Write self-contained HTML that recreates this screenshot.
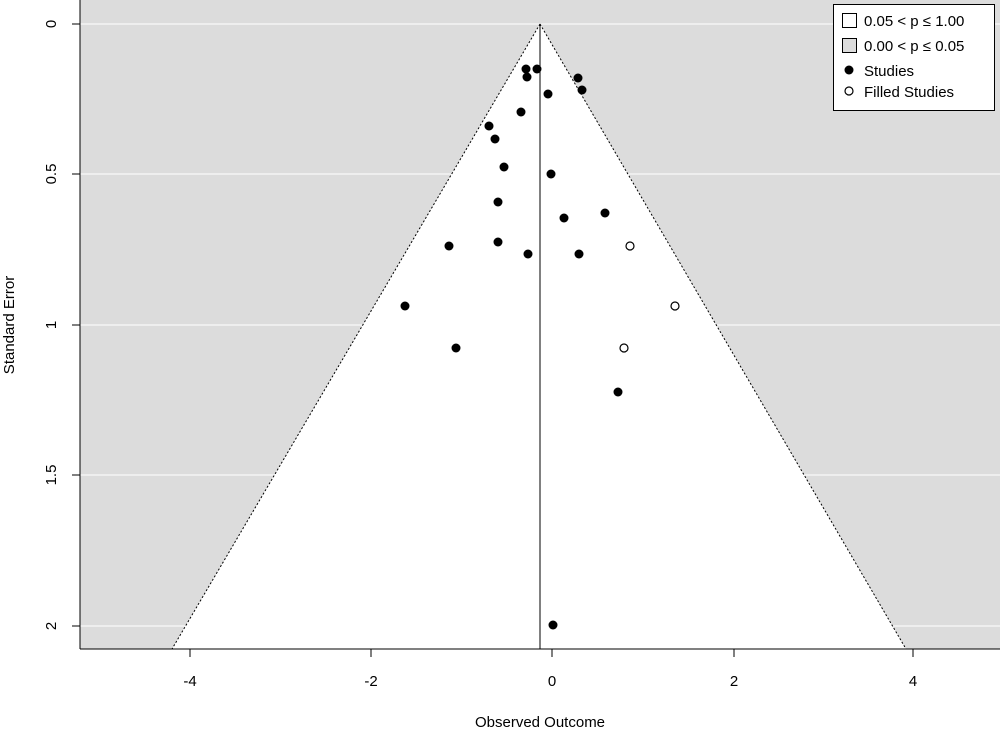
<!DOCTYPE html>
<html><head><meta charset="utf-8"><style>body{margin:0;background:#fff}svg{display:block}</style></head><body>
<svg width="1000" height="730" xmlns="http://www.w3.org/2000/svg" font-family="Liberation Sans, sans-serif">
<rect x="80" y="0" width="920" height="649" fill="#dcdcdc"/>
<g stroke="#fff" stroke-width="1">
<line x1="80" y1="24" x2="1000" y2="24"/><line x1="80" y1="174" x2="1000" y2="174"/><line x1="80" y1="325" x2="1000" y2="325"/><line x1="80" y1="475" x2="1000" y2="475"/><line x1="80" y1="626" x2="1000" y2="626"/>
</g>
<polygon points="540,24 172,649 906,649" fill="#fff"/>
<line x1="540" y1="24" x2="172" y2="649" stroke="#000" stroke-dasharray="2,2"/>
<line x1="540" y1="24" x2="906" y2="649" stroke="#000" stroke-dasharray="2,2"/>
<g stroke="#fff"><line x1="80" y1="626" x2="1000" y2="626" stroke-opacity="0"/></g>
<line x1="540" y1="24" x2="540" y2="649" stroke="#000"/>
<line x1="80" y1="0" x2="80" y2="649" stroke="#000"/>
<line x1="80" y1="649" x2="1000" y2="649" stroke="#000"/>
<g stroke="#000">
<line x1="72" y1="24" x2="80" y2="24"/><line x1="72" y1="174" x2="80" y2="174"/><line x1="72" y1="325" x2="80" y2="325"/><line x1="72" y1="475" x2="80" y2="475"/><line x1="72" y1="626" x2="80" y2="626"/>
<line x1="190" y1="649" x2="190" y2="657"/><line x1="371" y1="649" x2="371" y2="657"/><line x1="552" y1="649" x2="552" y2="657"/><line x1="734" y1="649" x2="734" y2="657"/><line x1="913" y1="649" x2="913" y2="657"/>
</g>
<g font-size="15" text-anchor="middle">
<text x="190" y="686">-4</text><text x="371" y="686">-2</text><text x="552" y="686">0</text><text x="734" y="686">2</text><text x="913" y="686">4</text>
<text x="540" y="727">Observed Outcome</text>
<text transform="translate(56,24) rotate(-90)">0</text>
<text transform="translate(56,174) rotate(-90)">0.5</text>
<text transform="translate(56,325) rotate(-90)">1</text>
<text transform="translate(56,475) rotate(-90)">1.5</text>
<text transform="translate(56,626) rotate(-90)">2</text>
<text transform="translate(14,325) rotate(-90)">Standard Error</text>
</g>
<g fill="#000">
<circle cx="526" cy="69" r="4.5"/><circle cx="537" cy="69" r="4.5"/><circle cx="527" cy="77" r="4.5"/><circle cx="578" cy="78" r="4.5"/><circle cx="582" cy="90" r="4.5"/><circle cx="548" cy="94" r="4.5"/><circle cx="521" cy="112" r="4.5"/><circle cx="489" cy="126" r="4.5"/><circle cx="495" cy="139" r="4.5"/><circle cx="504" cy="167" r="4.5"/><circle cx="551" cy="174" r="4.5"/><circle cx="498" cy="202" r="4.5"/><circle cx="564" cy="218" r="4.5"/><circle cx="605" cy="213" r="4.5"/><circle cx="449" cy="246" r="4.5"/><circle cx="498" cy="242" r="4.5"/><circle cx="528" cy="254" r="4.5"/><circle cx="579" cy="254" r="4.5"/><circle cx="405" cy="306" r="4.5"/><circle cx="456" cy="348" r="4.5"/><circle cx="618" cy="392" r="4.5"/><circle cx="553" cy="625" r="4.5"/>
</g>
<g fill="#fff" stroke="#000" stroke-width="1.2">
<circle cx="630" cy="246" r="4"/><circle cx="675" cy="306" r="4"/><circle cx="624" cy="348" r="4"/>
</g>
<rect x="833.5" y="4.5" width="161" height="106" fill="#fff" stroke="#000"/>
<rect x="842.5" y="13.5" width="14" height="14" fill="#fff" stroke="#000"/>
<rect x="842.5" y="38.5" width="14" height="14" fill="#dcdcdc" stroke="#000"/>
<circle cx="849" cy="70" r="4.5" fill="#000"/>
<circle cx="849" cy="91" r="4" fill="#fff" stroke="#000" stroke-width="1.2"/>
<g font-size="15">
<text x="864" y="26">0.05 &lt; p ≤ 1.00</text>
<text x="864" y="51">0.00 &lt; p ≤ 0.05</text>
<text x="864" y="76">Studies</text>
<text x="864" y="97">Filled  Studies</text>
</g>
</svg>
</body></html>
